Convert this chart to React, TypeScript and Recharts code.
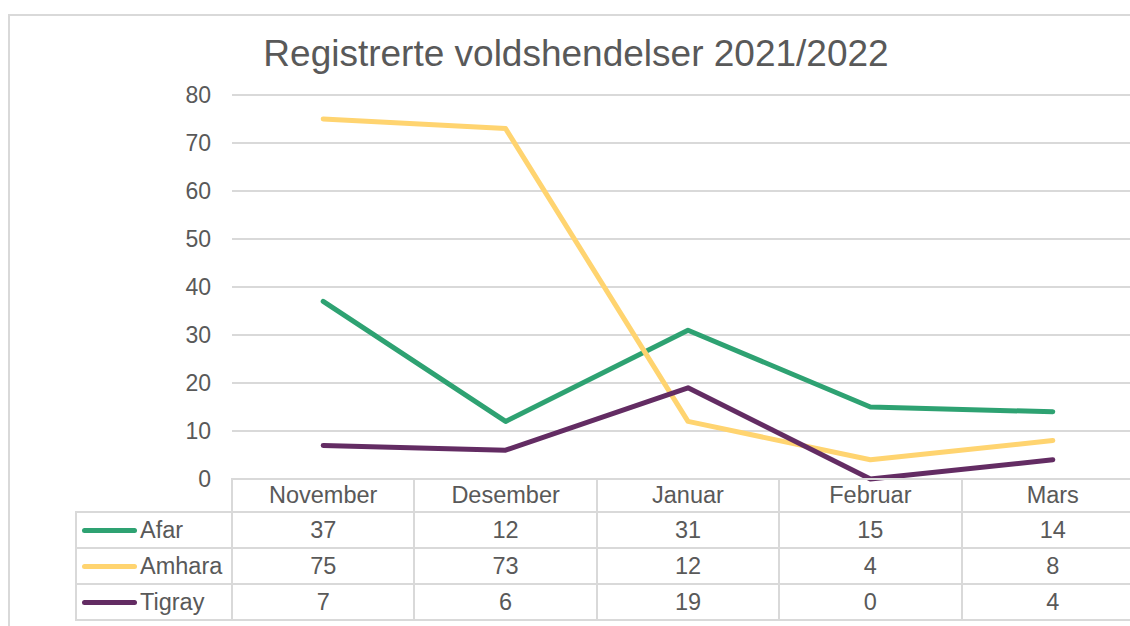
import { LineChart, Line, XAxis, YAxis, CartesianGrid } from 'recharts';

const months = ['November', 'Desember', 'Januar', 'Februar', 'Mars'];
const afar = [37, 12, 31, 15, 14];
const amhara = [75, 73, 12, 4, 8];
const tigray = [7, 6, 19, 0, 4];
const yTicks = [0, 10, 20, 30, 40, 50, 60, 70, 80];

const series = [
  { key: 'Afar', values: afar, color: '#2ea272' },
  { key: 'Amhara', values: amhara, color: '#ffd470' },
  { key: 'Tigray', values: tigray, color: '#632c63' },
];

const data = months.map((m, i) => ({
  month: m,
  Afar: afar[i],
  Amhara: amhara[i],
  Tigray: tigray[i],
}));

const FONT = 'Arial, "Liberation Sans", sans-serif';
const TEXT = '#595959';
const GRID = '#d9d9d9';

// plot geometry
const PLOT_LEFT = 232;
const PLOT_TOP = 95;
const PLOT_BOTTOM = 479;
const CHART_W = 1160;
const CHART_H = 626;
const COL_W = 182.4;
const LABEL_COL_LEFT = 76;
const LABEL_COL_W = PLOT_LEFT - LABEL_COL_LEFT;
const ROW_H = 36;
const HEADER_H = 33;

const cellBorder = `2px solid ${GRID}`;

const App = () => {
  return (
    <div
      style={{
        position: 'absolute',
        left: 0,
        top: 0,
        width: 1130,
        height: 626,
        overflow: 'hidden',
        background: '#fff',
        fontFamily: FONT,
      }}
    >
      {/* outer frame */}
      <div
        style={{
          position: 'absolute',
          left: 8,
          top: 14,
          width: 1200,
          height: 700,
          border: cellBorder,
        }}
      />
      <div
        style={{
          position: 'absolute',
          top: 33,
          left: 0,
          width: 1152,
          textAlign: 'center',
          fontSize: 37,
          color: TEXT,
        }}
      >
        Registrerte voldshendelser 2021/2022
      </div>

      <div style={{ position: 'absolute', left: 0, top: 0 }}>
        <LineChart
          width={CHART_W}
          height={CHART_H}
          data={data}
          margin={{ top: PLOT_TOP, right: CHART_W - (PLOT_LEFT + COL_W * 5), bottom: CHART_H - PLOT_BOTTOM, left: PLOT_LEFT - 60 }}
        >
          <CartesianGrid vertical={false} stroke={GRID} strokeWidth={2} />
          <XAxis dataKey="month" hide padding={{ left: COL_W / 2, right: COL_W / 2 }} />
          <YAxis
            width={60}
            domain={[0, 80]}
            ticks={yTicks}
            axisLine={false}
            tickLine={false}
            tickSize={0}
            tickMargin={21}
            tick={{ fontSize: 23, fill: TEXT, fontFamily: FONT }}
          />
          {series.map(s => (
            <Line
              key={s.key}
              dataKey={s.key}
              stroke={s.color}
              strokeWidth={5}
              strokeLinecap="round"
              strokeLinejoin="round"
              dot={false}
              activeDot={false}
              isAnimationActive={false}
            />
          ))}
        </LineChart>
      </div>

      {/* data table */}
      <table
        style={{
          position: 'absolute',
          left: LABEL_COL_LEFT - 1,
          top: PLOT_BOTTOM - 1,
          width: LABEL_COL_W + COL_W * 5,
          borderCollapse: 'collapse',
          tableLayout: 'fixed',
          fontSize: 23.5,
          color: TEXT,
          fontFamily: FONT,
        }}
      >
        <colgroup>
          <col style={{ width: LABEL_COL_W }} />
          {months.map(m => (
            <col key={m} style={{ width: COL_W }} />
          ))}
        </colgroup>
        <tbody>
          <tr style={{ height: HEADER_H }}>
            <td style={{ padding: 0 }} />
            {months.map(m => (
              <td key={m} style={{ border: cellBorder, textAlign: 'center', padding: 0 }}>
                {m}
              </td>
            ))}
          </tr>
          {series.map(s => (
            <tr key={s.key} style={{ height: ROW_H }}>
              <td style={{ border: cellBorder, padding: 0, whiteSpace: 'nowrap', overflow: 'hidden' }}>
                <span
                  style={{
                    display: 'inline-block',
                    width: 55,
                    height: 5,
                    borderRadius: 3,
                    background: s.color,
                    verticalAlign: 'middle',
                    marginLeft: 5,
                    marginRight: 3,
                  }}
                />
                <span style={{ verticalAlign: 'middle' }}>{s.key}</span>
              </td>
              {s.values.map((v, i) => (
                <td key={i} style={{ border: cellBorder, textAlign: 'center', padding: 0 }}>
                  {v}
                </td>
              ))}
            </tr>
          ))}
        </tbody>
      </table>
    </div>
  );
};

export default App;
